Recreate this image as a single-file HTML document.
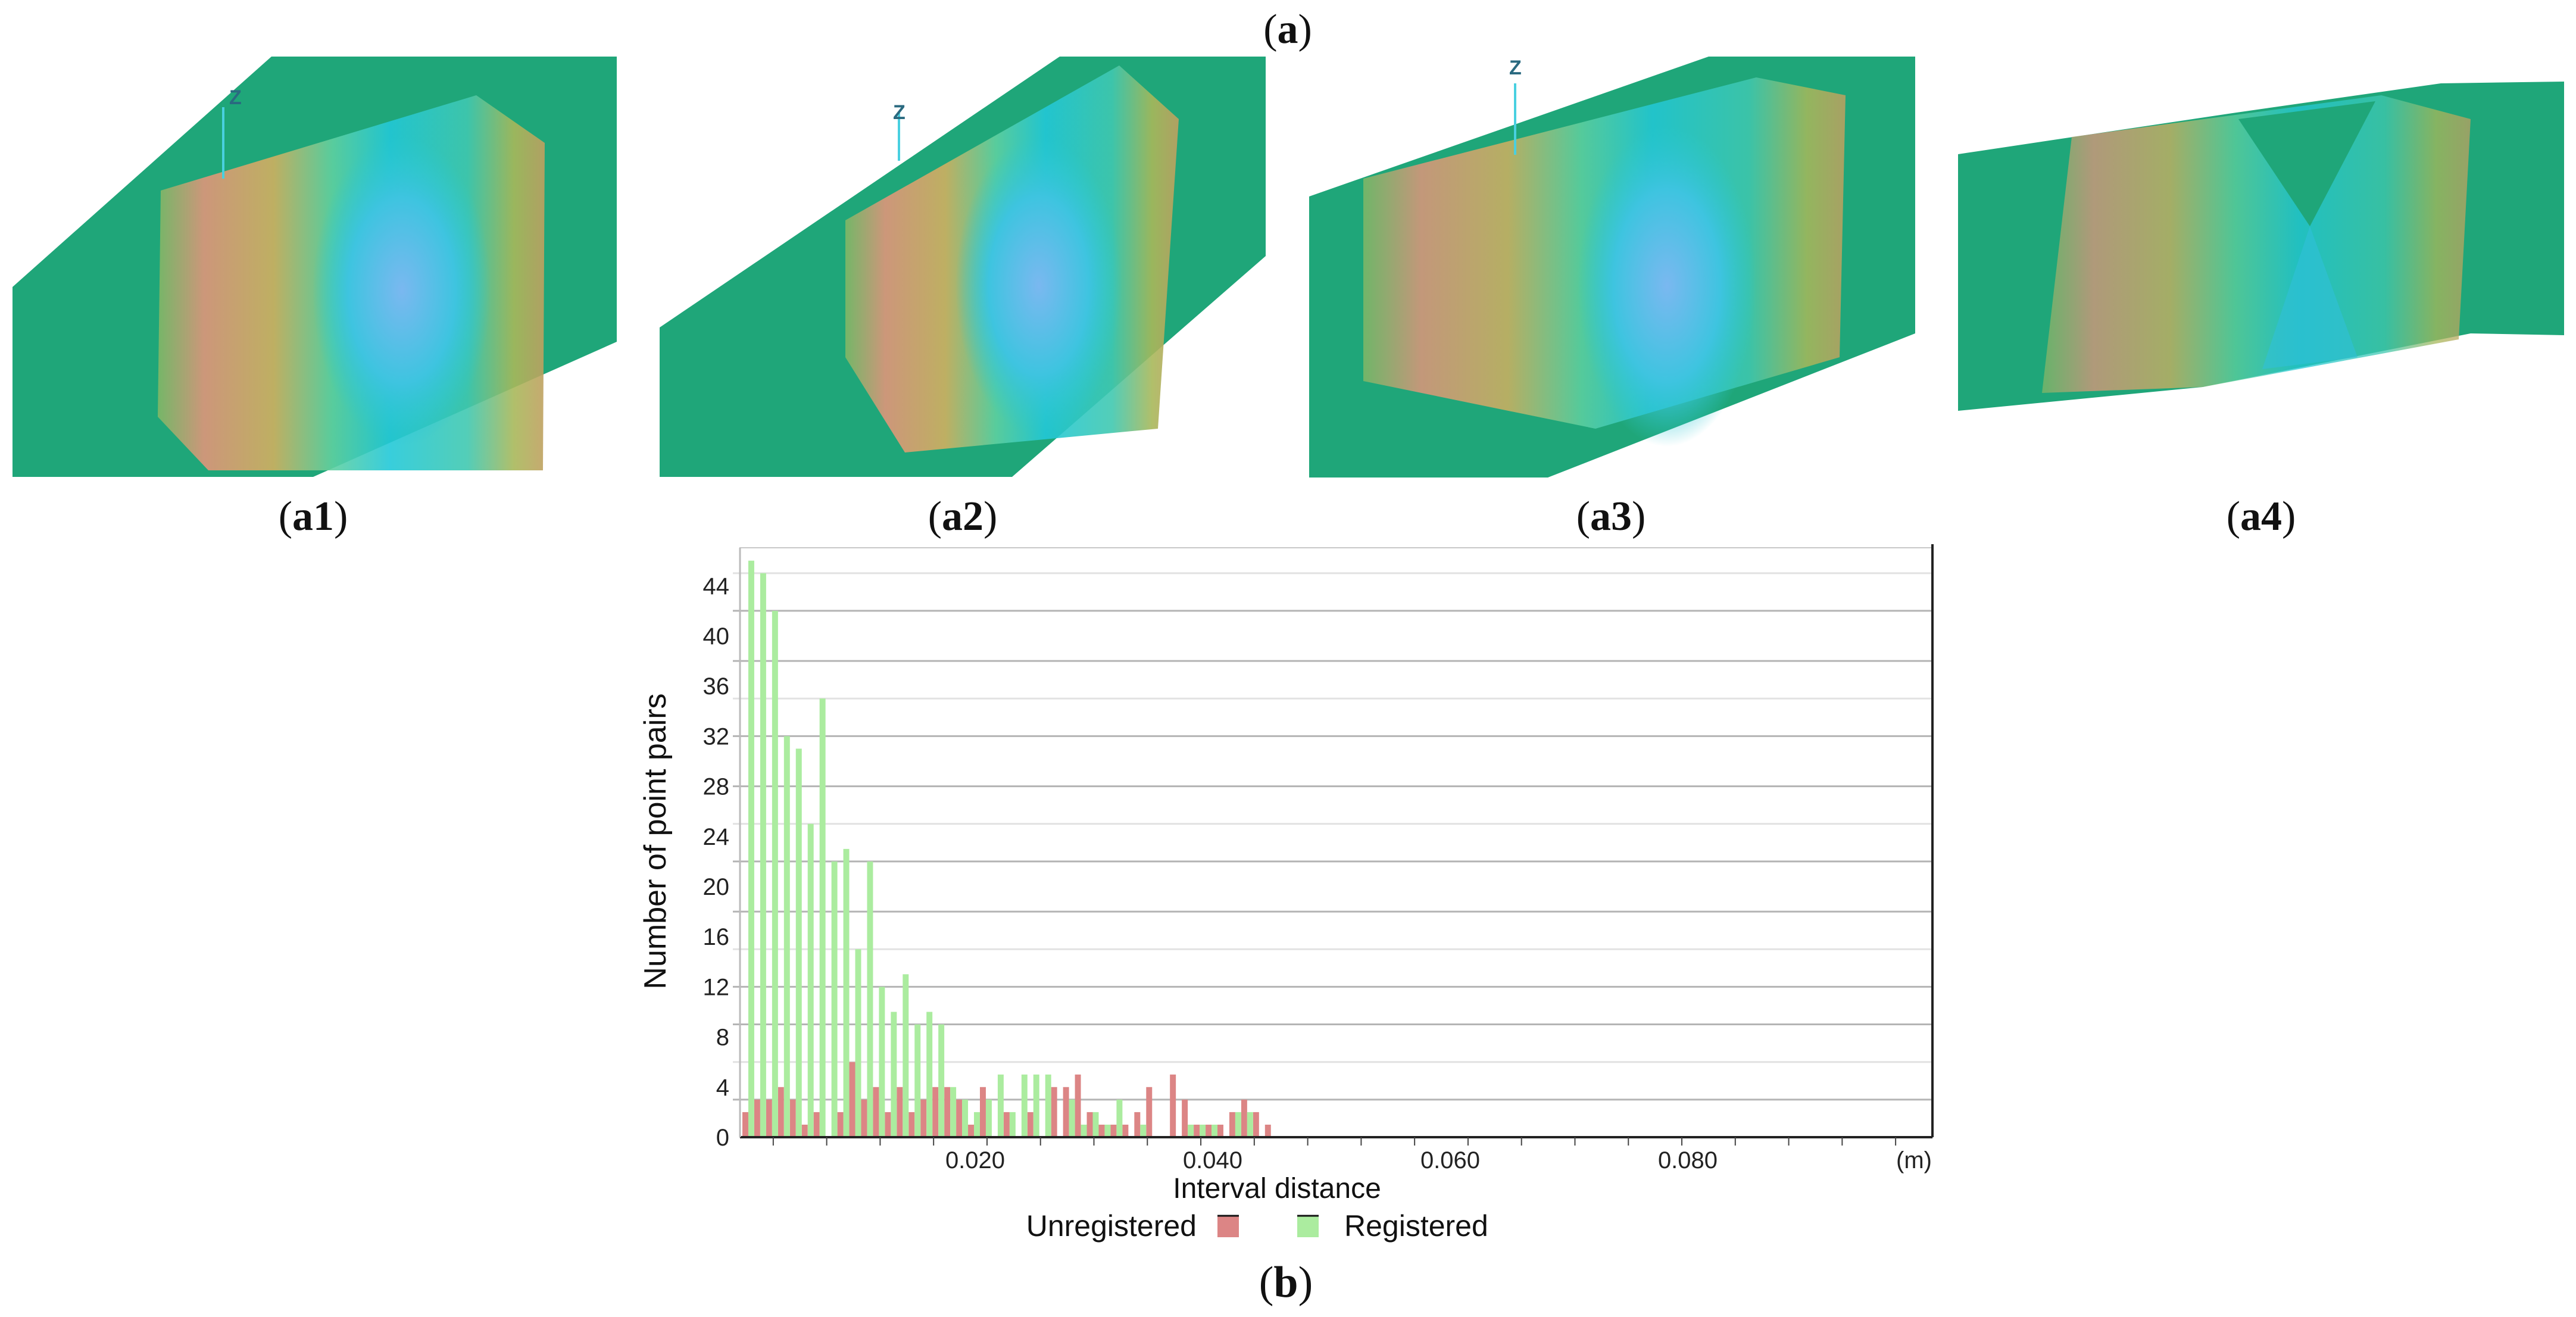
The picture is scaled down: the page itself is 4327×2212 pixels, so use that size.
<!DOCTYPE html>
<html><head><meta charset="utf-8"><style>
html,body{margin:0;padding:0;background:#fff;}
svg{display:block;}
</style></head><body>
<svg id="root" width="4327" height="2212" viewBox="0 0 4327 2212" xmlns="http://www.w3.org/2000/svg">
<defs>
<linearGradient id="band" x1="0" y1="0" x2="1" y2="0">
<stop offset="0" stop-color="#7fb866"/><stop offset="0.12" stop-color="#e0957a"/><stop offset="0.3" stop-color="#d0b060"/><stop offset="0.45" stop-color="#5fd0a0"/><stop offset="0.6" stop-color="#22c8d8"/><stop offset="0.8" stop-color="#40c8b0"/><stop offset="0.92" stop-color="#a8b85a"/><stop offset="1" stop-color="#c0a060"/>
</linearGradient>
<radialGradient id="spot" cx="0.5" cy="0.5" r="0.5">
<stop offset="0" stop-color="#7ab8f0"/><stop offset="0.6" stop-color="#3ec4e0"/><stop offset="1" stop-color="#2cc8d0" stop-opacity="0"/>
</radialGradient>
</defs>
<g font-family="'Liberation Serif',serif" fill="#111">
<text x="2163" y="72" font-size="70" text-anchor="middle">(<tspan font-weight="bold">a</tspan>)</text>
<text x="526" y="890" font-size="70" text-anchor="middle">(<tspan font-weight="bold">a1</tspan>)</text>
<text x="1617" y="890" font-size="70" text-anchor="middle">(<tspan font-weight="bold">a2</tspan>)</text>
<text x="2706" y="890" font-size="70" text-anchor="middle">(<tspan font-weight="bold">a3</tspan>)</text>
<text x="3798" y="890" font-size="70" text-anchor="middle">(<tspan font-weight="bold">a4</tspan>)</text>
<text x="2160" y="2178" font-size="74" text-anchor="middle">(<tspan font-weight="bold">b</tspan>)</text>
</g>
<g>
<polygon points="21,482 456,95 1036,95 1036,574 526,801 21,801" fill="#1fa679"/>
<polygon points="270,320 800,160 915,240 912,790 350,790 265,700" fill="url(#band)" opacity="0.9"/>
<ellipse cx="675" cy="488" rx="150" ry="260" fill="url(#spot)"/>
<line x1="375" y1="300" x2="375" y2="180" stroke="#49d0e0" stroke-width="4"/>
<text x="385" y="175" font-size="34" fill="#2a6a80" font-family="'Liberation Sans',sans-serif" font-weight="bold">Z</text>
</g>
<g>
<polygon points="1108,550 1780,95 2126,95 2126,430 1700,801 1108,801" fill="#1fa679"/>
<polygon points="1420,370 1880,110 1980,200 1945,720 1520,760 1420,600" fill="url(#band)" opacity="0.9"/>
<ellipse cx="1745" cy="480" rx="140" ry="250" fill="url(#spot)"/>
<line x1="1510" y1="270" x2="1510" y2="190" stroke="#49d0e0" stroke-width="4"/>
<text x="1500" y="200" font-size="34" fill="#2a6a80" font-family="'Liberation Sans',sans-serif" font-weight="bold">Z</text>
</g>
<g>
<polygon points="2199,330 2870,95 3217,95 3217,560 2600,802 2199,802" fill="#1fa679"/>
<polygon points="2290,300 2950,130 3100,160 3090,600 2680,720 2290,640" fill="url(#band)" opacity="0.85"/>
<ellipse cx="2800" cy="480" rx="150" ry="270" fill="url(#spot)"/>
<line x1="2545" y1="260" x2="2545" y2="140" stroke="#49d0e0" stroke-width="4"/>
<text x="2535" y="125" font-size="34" fill="#2a6a80" font-family="'Liberation Sans',sans-serif" font-weight="bold">Z</text>
</g>
<g>
<polygon points="3289,259 3750,190 4100,140 4307,137 4307,563 4150,560 3700,650 3289,690" fill="#1fa679"/>
<polygon points="3480,230 4000,160 4150,200 4130,570 3700,650 3430,660" fill="url(#band)" opacity="0.75"/>
<polygon points="3760,200 3990,170 3880,380" fill="#1fa679"/>
<polygon points="3880,380 3960,600 3800,620" fill="#30c0d8" opacity="0.6"/>
</g>

<g id="chart"></g>
</svg>
<script>
const binStart = 0.0002;
const binWidth = 0.001;
const unregistered = [2,3,3,4,3,1,2,0,2,6,3,4,2,4,2,3,4,4,3,1,4,0,2,0,2,0,4,4,5,2,1,1,1,2,4,0,5,3,1,1,1,2,3,2,1];
const registered = [46,45,42,32,31,25,35,22,23,15,22,12,10,13,9,10,9,4,3,2,3,5,2,5,5,5,0,3,1,2,1,3,0,1,0,0,0,1,1,1,0,2,2,0,0];
const yTicks = [0,4,8,12,16,20,24,28,32,36,40,44];
const gridValues = [3,6,9,12,15,18,22,25,28,32,35,38,42,45];
const xTicks = [0.02,0.04,0.06,0.08];
const xTickLabels = ["0.020","0.040","0.060","0.080"];

const NS = "http://www.w3.org/2000/svg";
const L = 1243, R = 3246, T = 920, B = 1910;
const yMax = 47.03;
const xs = v => 1239 + v * 19950;
const ys = v => B - v * (B - T) / yMax;
const g = document.getElementById('chart');
function mk(tag, attrs, parent) {
  const e = document.createElementNS(NS, tag);
  for (const k in attrs) e.setAttribute(k, attrs[k]);
  (parent || g).appendChild(e);
  return e;
}
let e = mk('rect', {x:L, y:T, width:R-L, height:B-T, fill:'#fff', stroke:'#c8c8c8', 'stroke-width':2});


gridValues.forEach((v, i) => {
  const ln = mk('line', {x1:L-12, x2:R, y1:ys(v), y2:ys(v), stroke: (i%3===1)?'#e2e2e2':'#b4b4b4', 'stroke-width':3});
  
  
});
const bw = (xs(binWidth) - xs(0)) / 2;
unregistered.forEach((v, i) => {
  if (!v) return;
  const x0 = xs(binStart + i * binWidth) + 4;
  const r = mk('rect', {x:x0, y:ys(v), width:bw, height:B-ys(v), fill:'#dc8585'});
  
  
});
registered.forEach((v, i) => {
  if (!v) return;
  const x0 = xs(binStart + i * binWidth) + 4 + bw;
  const r = mk('rect', {x:x0, y:ys(v), width:bw, height:B-ys(v), fill:'#abec9f'});
  
  
});
e = mk('line', {x1:L, x2:R, y1:B, y2:B, stroke:'#222', 'stroke-width':4});


e = mk('line', {x1:R, x2:R, y1:T-6, y2:B, stroke:'#222', 'stroke-width':4});


e = mk('line', {x1:L, x2:L, y1:T, y2:B, stroke:'#bbb', 'stroke-width':3});


for (let v = 0.003; v < 0.098; v += 0.0045) {
  const t = mk('line', {x1:xs(v), x2:xs(v), y1:B, y2:B+14, stroke:'#444', 'stroke-width':2});
  
  
}
yTicks.forEach(v => {
  const t = mk('text', {x:1225, y:ys(v)+14, 'font-size':40, 'text-anchor':'end', fill:'#222', 'font-family':"'Liberation Sans',sans-serif"});
  t.textContent = v;
  
  
});
xTicks.forEach((v, i) => {
  const t = mk('text', {x:xs(v), y:1962, 'font-size':40, 'text-anchor':'middle', fill:'#222', 'font-family':"'Liberation Sans',sans-serif"});
  t.textContent = xTickLabels[i];
  
  
});
e = mk('text', {x:3215, y:1962, 'font-size':40, 'text-anchor':'middle', fill:'#222', 'font-family':"'Liberation Sans',sans-serif"});
e.textContent = '(m)';


e = mk('text', {x:2145, y:2012, 'font-size':48, 'text-anchor':'middle', fill:'#111', 'font-family':"'Liberation Sans',sans-serif"});
e.textContent = 'Interval distance';


e = mk('text', {x:0, y:0, 'font-size':52, 'text-anchor':'middle', fill:'#111', 'font-family':"'Liberation Sans',sans-serif", transform:'translate(1118,1413) rotate(-90)'});
e.textContent = 'Number of point pairs';


e = mk('text', {x:2010, y:2076, 'font-size':50, 'text-anchor':'end', fill:'#111', 'font-family':"'Liberation Sans',sans-serif"});
e.textContent = 'Unregistered';


e = mk('rect', {x:2045, y:2041, width:36, height:37, fill:'#dc8585'});


mk('line', {x1:2045, x2:2081, y1:2042, y2:2042, stroke:'#111', 'stroke-width':3});
e = mk('rect', {x:2179, y:2041, width:36, height:37, fill:'#abec9f'});


mk('line', {x1:2179, x2:2215, y1:2042, y2:2042, stroke:'#111', 'stroke-width':3});
e = mk('text', {x:2258, y:2076, 'font-size':50, fill:'#111', 'font-family':"'Liberation Sans',sans-serif"});
e.textContent = 'Registered';


</script>
</body></html>
